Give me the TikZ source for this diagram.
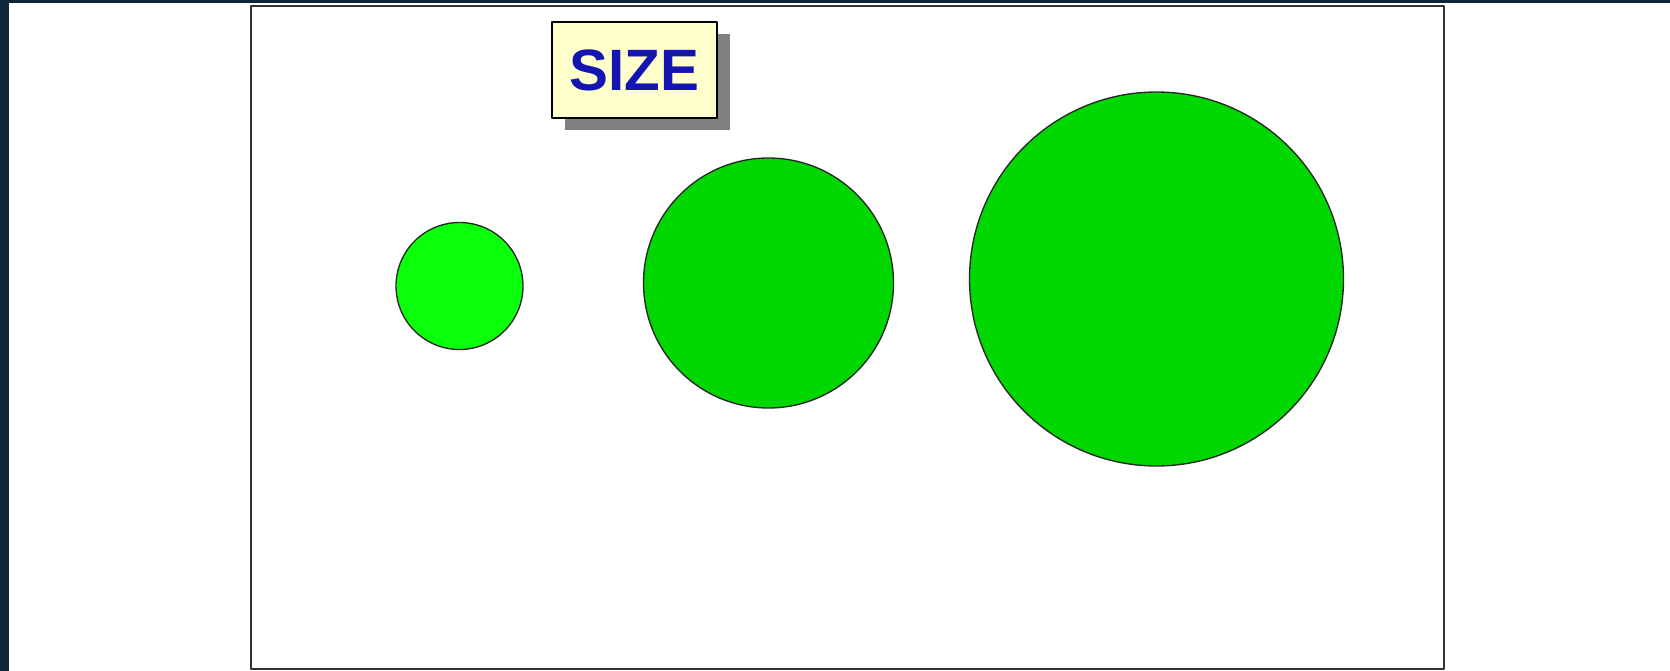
\documentclass[tikz,border=0pt]{standalone}
\usepackage{fontspec}
\newfontfamily\labelfont{Liberation Sans}
\usetikzlibrary{shadows}

\definecolor{backdrop}{RGB}{14,38,58}
\definecolor{palegreen}{RGB}{10,255,10}
\definecolor{deepgreen}{RGB}{0,214,0}
\definecolor{notepaper}{RGB}{255,255,204}
\definecolor{notetext}{RGB}{20,20,178}

\begin{document}
\begin{tikzpicture}[x=0.6pt,y=-0.6pt,line join=round,line cap=round,
    disc/.style={circle,draw=black!85,line width=0.8pt,inner sep=0pt},
    frame/.style={draw=black!80,line width=1.2pt},
    tag/.style={draw=black,line width=0.9pt,fill=notepaper,inner sep=0pt,
      minimum width=99pt,minimum height=57.6pt,
      drop shadow={shadow xshift=7.8pt,shadow yshift=-7.2pt,fill=black!50,opacity=1},
      text=notetext,font=\labelfont\bfseries\fontsize{35}{35}\selectfont}]

  % ======================= sfondo e cornice ===================
  \useasboundingbox (0,0) rectangle (1670,671);
  \fill[backdrop] (0,0) rectangle (1670,671);
  \fill[white] (8.5,3) rectangle (1670,671);
  \draw[frame] (251,6) rectangle (1444,669);

  % ======================= etichetta ===================
  \node[tag] (size) at (634.5,70) {SIZE};

  % ======================= tre cerchi crescenti ===================
  \node[disc,fill=palegreen,minimum size=76.2pt] (small)  at ( 459.5,286) {};   % piccolo
  \node[disc,fill=deepgreen,minimum size=150pt]  (medium) at ( 768.5,283) {};   % medio
  \node[disc,fill=deepgreen,minimum size=224.4pt] (large) at (1156.5,279) {};   % grande

\end{tikzpicture}
\end{document}
